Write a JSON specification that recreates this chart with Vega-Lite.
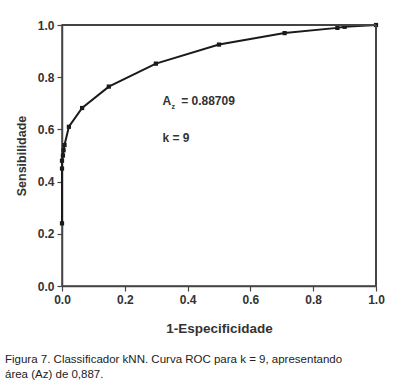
{
  "$schema": "https://vega.github.io/schema/vega-lite/v6.json",
  "width": 314,
  "height": 261,
  "autosize": "none",
  "padding": {"left": 62, "top": 25, "right": 23, "bottom": 103},
  "background": "white",
  "config": {
    "view": {"stroke": "#444", "strokeWidth": 1.5},
    "font": "Liberation Sans",
    "axis": {
      "domainColor": "#444",
      "domainWidth": 1.5,
      "tickColor": "#444",
      "tickWidth": 1.2,
      "grid": false,
      "labelFont": "Liberation Sans",
      "labelFontWeight": "bold",
      "labelFontSize": 12,
      "labelColor": "#333",
      "titleFont": "Liberation Sans",
      "titleFontWeight": "bold",
      "titleColor": "#333"
    }
  },
  "title": {
    "text": ["Figura 7. Classificador kNN. Curva ROC para k = 9, apresentando", "área (Az) de 0,887."],
    "orient": "bottom",
    "anchor": "start",
    "frame": "group",
    "dx": -57,
    "offset": 19,
    "fontSize": 11.5,
    "fontWeight": "normal",
    "font": "Liberation Sans",
    "color": "#222",
    "lineHeight": 15
  },
  "datasets": {
    "roc": [
      {"fpr": 0, "tpr": 0.24},
      {"fpr": 0, "tpr": 0.45},
      {"fpr": 0, "tpr": 0.48},
      {"fpr": 0.003, "tpr": 0.5},
      {"fpr": 0.005, "tpr": 0.52},
      {"fpr": 0.008, "tpr": 0.54},
      {"fpr": 0.022, "tpr": 0.61},
      {"fpr": 0.064, "tpr": 0.682},
      {"fpr": 0.149, "tpr": 0.764},
      {"fpr": 0.299, "tpr": 0.852},
      {"fpr": 0.5, "tpr": 0.925},
      {"fpr": 0.709, "tpr": 0.969},
      {"fpr": 0.877, "tpr": 0.989},
      {"fpr": 0.9, "tpr": 0.993},
      {"fpr": 1, "tpr": 1}
    ],
    "notes": [
      {"x": 0.32, "y": 0.71, "t": "A\u00a0\u00a0\u00a0= 0.88709"},
      {"x": 0.32, "y": 0.567, "t": "k = 9"}
    ],
    "sub": [
      {"x": 0.32, "y": 0.71, "t": "z"}
    ],
    "frame": [
      {"x0": 0, "x1": 1, "y0": 1, "y1": 1},
      {"x0": 1, "x1": 1, "y0": 0, "y1": 1}
    ]
  },
  "layer": [
    {
      "data": {"name": "roc"},
      "mark": {"type": "line", "color": "#1a1a1a", "strokeWidth": 2, "point": {"shape": "square", "size": 18, "filled": true, "color": "#1a1a1a"}},
      "encoding": {
        "x": {
          "field": "fpr", "type": "quantitative",
          "scale": {"domain": [0, 1], "nice": false},
          "axis": {
            "orient": "bottom",
            "title": "1-Especificidade",
            "titleFontSize": 13.5,
            "titlePadding": 16,
            "values": [0, 0.1, 0.2, 0.3, 0.4, 0.5, 0.6, 0.7, 0.8, 0.9, 1],
            "labelExpr": "round(datum.value*10)%2==0 ? format(datum.value,'.1f') : ''",
            "tickSize": {"condition": {"test": "round(datum.value*10)%2==0", "value": 5}, "value": 3},
            "labelPadding": 3,
            "labelFlush": false,
            "labelOverlap": false
          }
        },
        "y": {
          "field": "tpr", "type": "quantitative",
          "scale": {"domain": [0, 1], "nice": false},
          "axis": {
            "orient": "left",
            "title": "Sensibilidade",
            "titleFontSize": 12.5,
            "titlePadding": 9,
            "values": [0, 0.1, 0.2, 0.3, 0.4, 0.5, 0.6, 0.7, 0.8, 0.9, 1],
            "labelExpr": "round(datum.value*10)%2==0 ? format(datum.value,'.1f') : ''",
            "tickSize": {"condition": {"test": "round(datum.value*10)%2==0", "value": 5}, "value": 3},
            "labelPadding": 3,
            "labelFlush": false,
            "labelOverlap": false
          }
        }
      }
    },
    {
      "data": {"name": "frame"},
      "mark": {"type": "rule", "color": "#444", "strokeWidth": 2, "clip": false},
      "encoding": {
        "x": {"field": "x0", "type": "quantitative"},
        "x2": {"field": "x1"},
        "y": {"field": "y0", "type": "quantitative"},
        "y2": {"field": "y1"}
      }
    },
    {
      "data": {"name": "notes"},
      "mark": {"type": "text", "align": "left", "baseline": "middle", "font": "Liberation Sans", "fontWeight": "bold", "fontSize": 12, "color": "#333"},
      "encoding": {
        "x": {"field": "x", "type": "quantitative"},
        "y": {"field": "y", "type": "quantitative"},
        "text": {"field": "t"}
      }
    },
    {
      "data": {"name": "sub"},
      "mark": {"type": "text", "align": "left", "baseline": "middle", "font": "Liberation Sans", "fontWeight": "bold", "fontSize": 7, "color": "#333", "dx": 9, "dy": 6},
      "encoding": {
        "x": {"field": "x", "type": "quantitative"},
        "y": {"field": "y", "type": "quantitative"},
        "text": {"field": "t"}
      }
    }
  ]
}
